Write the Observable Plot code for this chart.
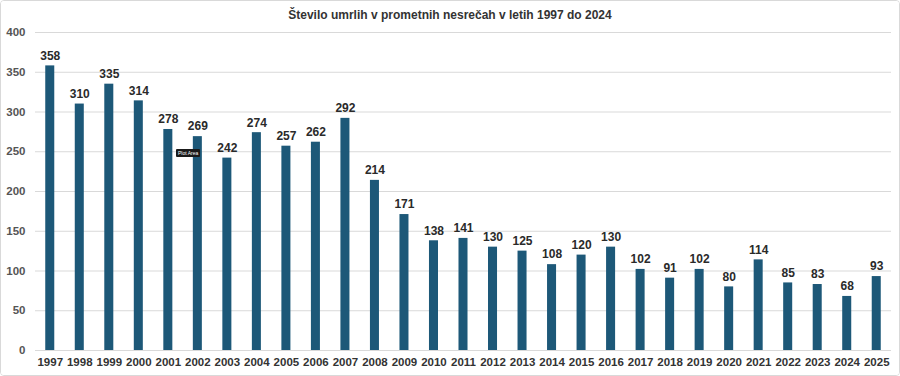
<!DOCTYPE html>
<html>
<head>
<meta charset="utf-8">
<script src="https://cdn.jsdelivr.net/npm/d3@7"></script>
<script src="https://cdn.jsdelivr.net/npm/@observablehq/plot@0.6"></script>
<style>
  html, body { margin: 0; padding: 0; background: #fff; }
  #wrap { position: relative; width: 898px; height: 374px; border: 1px solid #d9d9d9; border-radius: 4px; overflow: hidden; font-family: "Liberation Sans", Arial, sans-serif; }
  #title { position: absolute; left: 0; top: 7px; width: 898px; text-align: center; font-weight: bold; font-size: 12px; color: #333; }
  #tip { position: absolute; left: 175px; top: 148px; background: #1a1a1a; color: #fff; font-size: 5px; padding: 1px 2px; border-radius: 1px; }
  svg { display: block; }
</style>
</head>
<body>
<div id="wrap">
  <div id="chart"></div>
  <div id="title">Število umrlih v prometnih nesrečah v letih 1997 do 2024</div>
  <div id="tip">Plot Area</div>
</div>
<script>
const years = ["1997","1998","1999","2000","2001","2002","2003","2004","2005","2006","2007","2008","2009","2010","2011","2012","2013","2014","2015","2016","2017","2018","2019","2020","2021","2022","2023","2024","2025"];
const deaths = [358,310,335,314,278,269,242,274,257,262,292,214,171,138,141,130,125,108,120,130,102,91,102,80,114,85,83,68,93];
const yTicks = [0,50,100,150,200,250,300,350,400];

const data = years.map((y, i) => ({year: y, value: deaths[i]}));

const chart = Plot.plot({
  width: 898,
  height: 374,
  marginTop: 31,
  marginBottom: 25,
  marginLeft: 34,
  marginRight: 8,
  style: {fontFamily: "'Liberation Sans', Arial, sans-serif", background: "#fff"},
  x: {domain: years, padding: 0, round: false, label: null},
  y: {domain: [0, 400], ticks: yTicks, label: null},
  marks: [
    Plot.gridY(yTicks, {stroke: "#d9d9d9", strokeOpacity: 1}),
    Plot.axisY(yTicks, {tickSize: 0, tickPadding: 10, fontSize: 11.5, fontWeight: "bold", fill: "#555", label: null}),
    Plot.axisX({tickSize: 0, tickPadding: 7, fontSize: 11.5, fontWeight: "bold", fill: "#333", label: null}),
    Plot.barY(data, {x: "year", y: "value", fill: "#1d5878", insetLeft: 10.25, insetRight: 10.25}),
    Plot.text(data, {x: "year", y: "value", text: d => String(d.value), dy: -10, fontSize: 12, fontWeight: "bold", fill: "#2a2a2a"})
  ]
});
document.getElementById("chart").append(chart);
</script>
</body>
</html>
